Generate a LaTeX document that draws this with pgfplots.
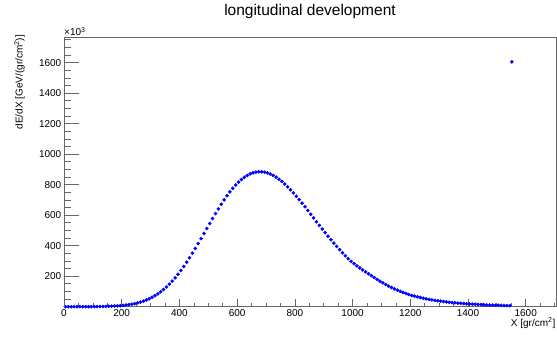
\documentclass[border=0pt]{standalone}
\usepackage{pgfplots}
\pgfplotsset{compat=1.18}
\usepackage{fontspec}
\setmainfont{Liberation Sans}
\pgfplotstableread{
x y
5 0.02
15 0.03
25 0.04
35 0.05
45 0.07
55 0.1
65 0.15
75 0.2
85 0.3
95 0.4
105 0.6
115 0.78
125 1.05
135 1.4
145 1.85
155 2.4
165 3.2
175 4.1
185 5.3
195 6.7
205 8.5
215 10.7
225 13.3
235 16.4
245 20.2
255 24.7
265 30.0
275 36.2
285 43.4
295 51.7
305 61.2
315 72.0
325 84.1
335 97.7
345 112.8
355 129.5
365 147.8
375 167.8
385 189.4
395 212.7
405 237.5
415 263.9
425 291.6
435 320.6
445 350.9
455 382.1
465 414.1
475 446.7
485 479.7
495 512.8
505 545.8
515 578.4
525 610.4
535 641.3
545 671.4
555 700.1
565 727.3
575 752.8
585 776.3
595 797.8
605 817.1
615 834.0
625 848.6
635 860.8
645 870.4
655 877.6
665 882.4
675 884.7
685 884.7
695 882.2
705 877.4
715 870.3
725 861.0
735 849.6
745 836.3
755 821.3
765 804.6
775 786.4
785 766.9
795 746.2
805 724.5
815 702.0
825 678.8
835 655.1
845 631.0
855 606.6
865 582.2
875 557.7
885 533.4
895 509.3
905 485.6
915 462.2
925 439.3
935 417.0
945 395.3
955 374.2
965 353.8
975 334.1
985 315.2
995 297.0
1005 282.4
1015 268.2
1025 254.4
1035 241.2
1045 228.5
1055 216.2
1065 203.5
1075 191.4
1085 179.1
1095 167.6
1105 156.6
1115 145.7
1125 135.5
1135 126.0
1145 117.1
1155 108.8
1165 101.1
1175 93.5
1185 86.4
1195 79.9
1205 73.9
1215 69.0
1225 64.5
1235 60.3
1245 56.0
1255 51.5
1265 48.0
1275 44.8
1285 41.7
1295 38.9
1305 36.3
1315 33.8
1325 31.5
1335 29.4
1345 27.4
1355 25.6
1365 23.8
1375 22.2
1385 20.7
1395 19.3
1405 18.0
1415 16.8
1425 15.7
1435 14.6
1445 13.6
1455 12.7
1465 11.8
1475 11.0
1485 10.3
1495 9.6
1505 8.9
1515 8.3
1525 7.8
1535 7.2
1545 6.7
1552 1605
}\profile
\begin{document}
\begin{tikzpicture}[x=1pt,y=1pt]
\useasboundingbox (-64,-30.3) rectangle (493,306.7);
\begin{axis}[
  at={(0,0)}, anchor=origin,
  scale only axis, width=492pt, height=269pt,
  xmin=0, xmax=1705, ymin=0, ymax=1764,
  xtick={0,200,...,1600},
  ytick={200,400,...,1600},
  minor xtick={50,100,...,1700},
  minor ytick={50,100,...,1750},
  xtick pos=bottom, ytick pos=left,
  tick align=inside,
  major tick length=8pt, minor tick length=4pt,
  axis line style={black!60, line width=0.7pt},
  every tick/.style={black!60, line width=0.7pt},
  /pgf/number format/assume math mode=true,
  /pgf/number format/1000 sep={},
  tick label style={font=\fontsize{10}{12}\selectfont, black},
  xticklabel style={inner sep=2.5pt},
  yticklabel style={inner sep=2.5pt},
  scaled ticks=false,
  xlabel={X [gr/cm\textsuperscript{2}]},
  xlabel style={at={(rel axis cs:1,0)}, anchor=north east, inner sep=0pt, yshift=-11pt, xshift=-0.5pt, font=\fontsize{10}{12}\selectfont},
  ylabel={dE/dX [GeV/(gr/cm\textsuperscript{2})]},
  ylabel style={at={(rel axis cs:0,1)}, anchor=south east, inner sep=0pt, xshift=3pt, yshift=39pt, font=\fontsize{10}{12}\selectfont},
  title={longitudinal development},
  title style={at={(rel axis cs:0.5,1)}, anchor=base, yshift=16pt, font=\fontsize{15.5}{18}\selectfont},
  clip=false,
]
\addplot[only marks, mark=*, mark size=1.6pt, color=blue, mark options={draw=blue, fill=blue}] table[x=x,y=y] {\profile};
\node[anchor=south west, inner sep=0pt, font=\fontsize{10}{12}\selectfont] at (rel axis cs:0,1) [yshift=1.5pt] {×10\textsuperscript{3}};
\end{axis}
\begin{axis}[
  at={(0,0)}, anchor=origin,
  scale only axis, width=492pt, height=269pt,
  xmin=0, xmax=1705, ymin=0, ymax=1764,
  hide x axis,
  axis y line*=left,
  ytick={200,400,...,1600},
  minor ytick={50,100,...,1750},
  yticklabels={},
  tick align=inside,
  major tick length=14.8pt, minor tick length=7.4pt,
  axis line style={black!60, line width=0.7pt, -},
  every tick/.style={black!60, line width=0.7pt},
]
\end{axis}
\end{tikzpicture}
\end{document}
